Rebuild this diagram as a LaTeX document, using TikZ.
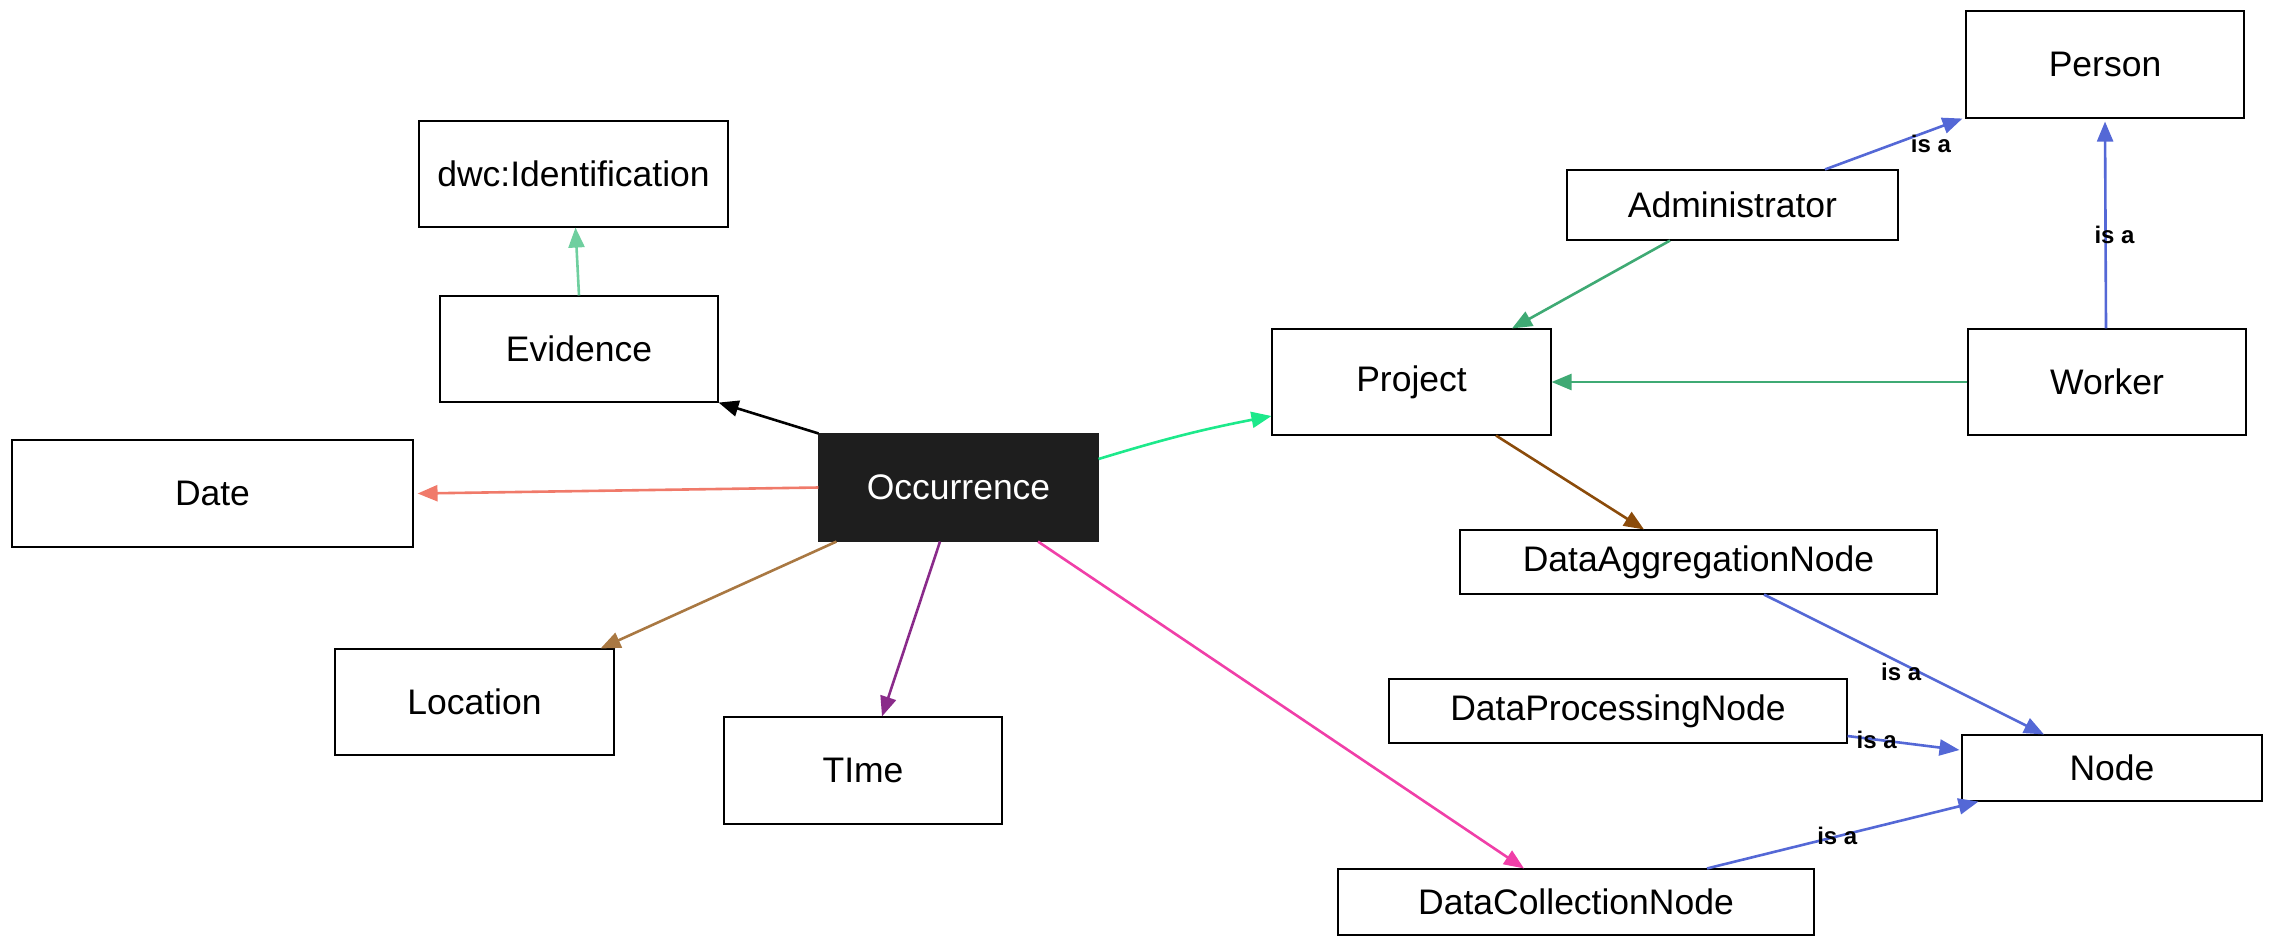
\documentclass[tikz,border=0pt]{standalone}
\usepackage{fontspec}
\setmainfont{Liberation Sans}
\usetikzlibrary{arrows.meta}
\definecolor{isablue}{HTML}{5468D6}
\definecolor{admgreen}{HTML}{3FAA74}
\definecolor{brightgreen}{HTML}{1DE98B}
\definecolor{lightgreen}{HTML}{6FCF9F}
\definecolor{salmon}{HTML}{F07A6A}
\definecolor{locbrown}{HTML}{A97842}
\definecolor{timepurple}{HTML}{8A2B8A}
\definecolor{dcpink}{HTML}{F03FA8}
\definecolor{projbrown}{HTML}{8B4B0A}
\definecolor{occfill}{HTML}{1E1E1E}
\tikzset{
  box/.style={draw=black, line width=1.1pt, fill=white, rectangle, inner sep=0pt,
    font=\fontsize{35.5}{40}\selectfont, text=black},
  darkbox/.style={box, fill=occfill, draw=occfill, text=white},
  conn/.style={line width=2.6pt, -{Triangle[length=20pt,width=16pt]}},
  isa/.style={font=\fontsize{24}{27}\selectfont\bfseries, text=black, inner sep=0pt},
}
\begin{document}
\begin{tikzpicture}[x=1pt,y=-1pt]
\useasboundingbox (0,0) rectangle (2273,946);
% nodes
\node[box, minimum width=309pt, minimum height=106pt] (dwc) at (573.5,174) {dwc:Identification};
\node[box, minimum width=278pt, minimum height=106pt] (ev) at (579,349) {Evidence};
\node[box, minimum width=401pt, minimum height=107pt] (date) at (212.5,493.5) {Date};
\node[darkbox, minimum width=279pt, minimum height=107pt] (occ) at (958.5,487.5) {Occurrence};
\node[box, minimum width=279pt, minimum height=106pt] (loc) at (474.5,702) {Location};
\node[box, minimum width=278pt, minimum height=107pt] (time) at (863,770.5) {TIme};
\node[box, minimum width=278pt, minimum height=107pt] (person) at (2105,64.5) {Person};
\node[box, minimum width=331pt, minimum height=70pt] (admin) at (1732.5,205) {Administrator};
\node[box, minimum width=279pt, minimum height=106pt] (proj) at (1411.5,382) {Project};
\node[box, minimum width=278pt, minimum height=106pt] (worker) at (2107,382) {Worker};
\node[box, minimum width=477pt, minimum height=64pt] (dan) at (1698.5,562) {DataAggregationNode};
\node[box, minimum width=458pt, minimum height=64pt] (dpn) at (1618,711) {DataProcessingNode};
\node[box, minimum width=300pt, minimum height=66pt] (node) at (2112,768) {Node};
\node[box, minimum width=476pt, minimum height=66pt] (dcn) at (1576,902) {DataCollectionNode};
% connectors from Occurrence
\draw[conn, lightgreen] (ev.north) -- ([xshift=2pt]dwc.south);
\draw[conn, black] (occ.north west) -- (ev.south east);
\draw[conn, salmon] (occ.west) -- ([xshift=4pt]date.east);
\draw[conn, locbrown] ([xshift=18pt]occ.south west) -- ([xshift=-14pt]loc.north east);
\draw[conn, timepurple] ([xshift=-18.5pt]occ.south) -- ([xshift=19pt]time.north);
\draw[conn, dcpink] ([xshift=79.5pt]occ.south) -- ([xshift=-52pt]dcn.north);
\draw[conn, brightgreen] ([yshift=28.5pt]occ.east) to[bend left=3] ([yshift=-34pt]proj.west);
% project related
\draw[conn, admgreen] ([xshift=-62.5pt]admin.south) -- ([xshift=100.5pt]proj.north);
\draw[conn, admgreen] (worker.west) -- (proj.east);
\draw[conn, projbrown] ([xshift=84.5pt]proj.south) -- ([xshift=-54.5pt]dan.north);
% is a
\draw[conn, isablue] ([xshift=92.5pt]admin.north) -- ([xshift=-3pt]person.south west)
  node[isa, pos=0.77, yshift=-14pt] {is a};
\draw[conn, isablue] ([xshift=-1pt]worker.north) -- ([yshift=-3pt]person.south)
  node[isa, pos=0.45, xshift=9pt] {is a};
\draw[conn, isablue] ([xshift=65.5pt]dan.south) -- ([xshift=-68pt]node.north)
  node[isa, pos=0.49, yshift=-9pt] {is a};
\draw[conn, isablue] ([yshift=-25pt]dpn.east) -- ([xshift=-2pt,yshift=18pt]node.west)
  node[isa, pos=0.26] {is a};
\draw[conn, isablue] ([xshift=131pt]dcn.north) -- ([xshift=17pt]node.south west)
  node[isa, pos=0.48] {is a};
\end{tikzpicture}
\end{document}
